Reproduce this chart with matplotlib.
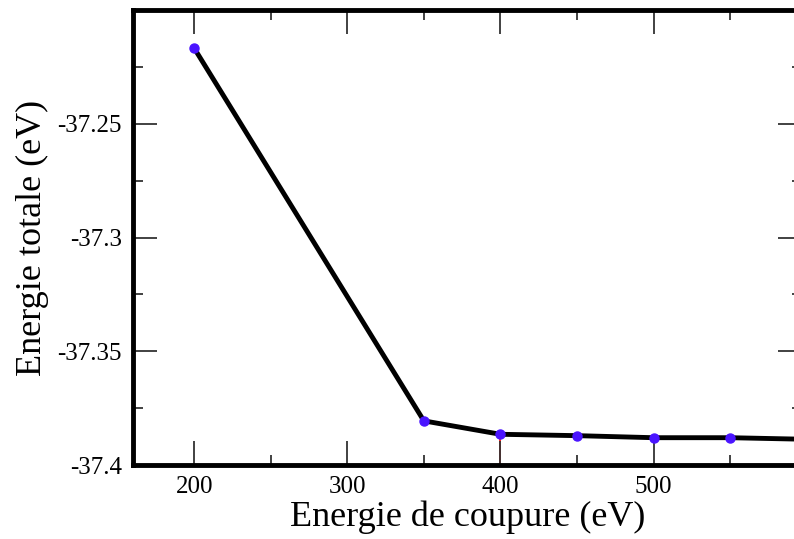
import numpy as np
import matplotlib.pyplot as plt
from matplotlib.ticker import MultipleLocator

# energie de coupure (eV) et energie totale (eV)
ecut = [200, 350, 400, 450, 500, 550, 600]
etot = [-37.2168, -37.3806, -37.3865, -37.3871, -37.3880, -37.3880, -37.3887]
yticks = [-37.4, -37.35, -37.3, -37.25]
ylabels = ['-37.4', '-37.35', '-37.3', '-37.25']
xticks = [200, 300, 400, 500]

plt.rcParams['font.family'] = ['Liberation Serif', 'DejaVu Serif']

fig = plt.figure(figsize=(7.94, 5.39), dpi=100)
ax = fig.add_axes([133/794, 1 - 465/539, (802 - 133)/794, (465 - 10)/539])

ax.plot(ecut, etot, color='black', lw=3.5, zorder=2)
ax.plot(ecut, etot, ls='none', marker='o', ms=6.5, color='#4a14ff', zorder=3)
# trait rouge vertical a 400 eV
ax.plot([400, 400], [-37.4, etot[2]], color='red', lw=1.2, zorder=1)

ax.set_xlim(160, 597)
ax.set_ylim(-37.4, -37.2)
ax.set_xticks(xticks)
ax.set_yticks(yticks)
ax.set_yticklabels(ylabels)
ax.xaxis.set_minor_locator(MultipleLocator(50))
ax.yaxis.set_minor_locator(MultipleLocator(0.025))
ax.tick_params(which='both', direction='in', top=True, right=True,
               width=1.3, color='#333333', labelsize=18, pad=8)
ax.tick_params(which='major', length=17)
ax.tick_params(which='minor', length=7)
for s in ax.spines.values():
    s.set_linewidth(3.5)

ax.set_xlabel('Energie de coupure (eV)', fontsize=26, labelpad=2)
ax.set_ylabel('Energie totale (eV)', fontsize=26, labelpad=6)

fig.savefig('out.png', dpi=100)
